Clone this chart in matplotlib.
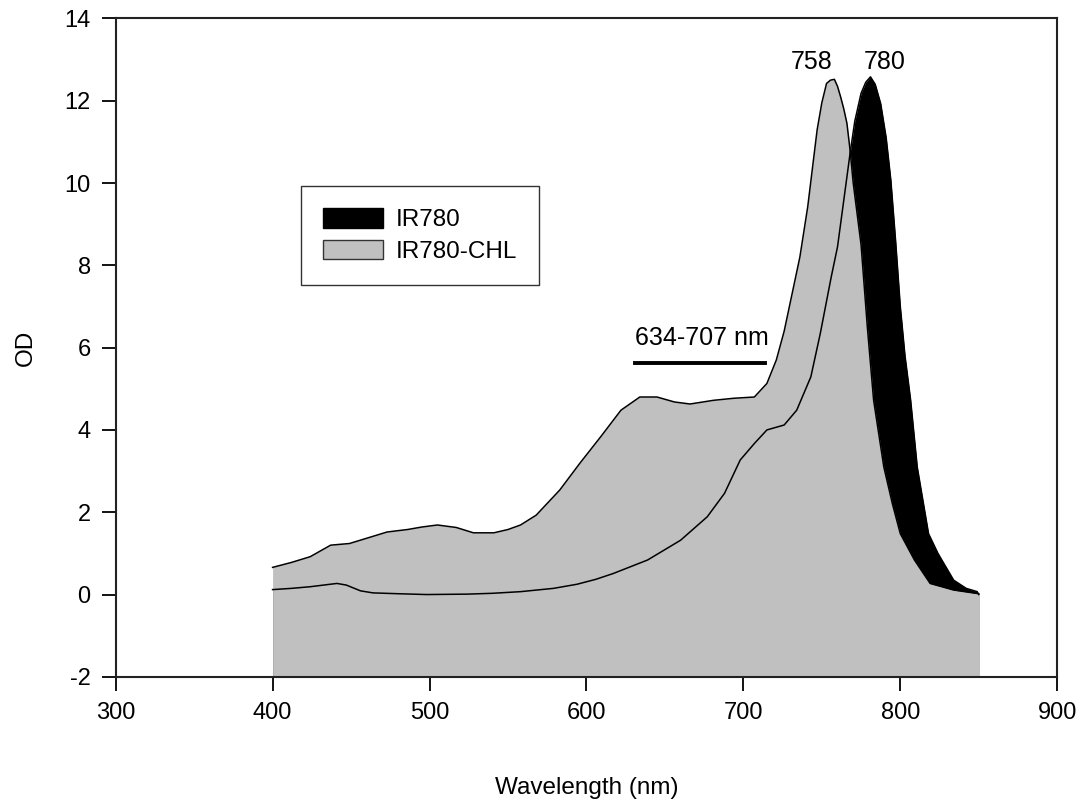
# absorption spectra IR780 vs IR780-CHL

import matplotlib
matplotlib.use("Agg")
import matplotlib.pyplot as plt
from matplotlib.patches import Patch

plt.rcParams['font.family'] = ['Liberation Sans', 'DejaVu Sans']
plt.rcParams['axes.unicode_minus'] = False

# IR780-CHL spectrum (wavelength nm, OD)
chl_x = [400, 412, 424, 437, 449, 461, 473, 486, 495, 505, 517, 528, 541, 550,
         558, 568, 583, 596, 609, 622, 634, 645, 656, 666, 681, 694, 707, 715,
         721, 726, 731, 736, 741, 747, 750, 753, 755.5, 758, 760, 762, 764, 766,
         768, 770, 775, 779, 783, 789.5, 795, 800, 809, 819, 834, 850]
chl_y = [0.66, 0.78, 0.92, 1.20, 1.24, 1.38, 1.52, 1.58, 1.64, 1.69, 1.63, 1.50,
         1.50, 1.58, 1.69, 1.93, 2.54, 3.20, 3.83, 4.48, 4.80, 4.80, 4.68, 4.63,
         4.72, 4.77, 4.80, 5.13, 5.70, 6.40, 7.30, 8.20, 9.42, 11.29, 11.95,
         12.42, 12.50, 12.52, 12.35, 12.09, 11.80, 11.45, 10.80, 10.0, 8.5, 6.5,
         4.72, 3.10, 2.2, 1.48, 0.84, 0.27, 0.11, 0.02]

# IR780 spectrum
ir_x = [400, 412, 424, 441, 447, 456, 464, 480, 498, 524, 540, 558, 579, 594,
        606, 617, 639, 660, 677, 688, 698, 707, 715, 726, 734, 743, 749, 756,
        760, 768, 771, 775, 778, 781, 784, 787.5, 791, 794, 797, 800, 803,
        806.6, 810.8, 818, 824, 834, 842, 849, 850]
ir_y = [0.12, 0.15, 0.19, 0.27, 0.23, 0.09, 0.04, 0.02, 0.00, 0.01, 0.03, 0.07,
        0.15, 0.25, 0.37, 0.51, 0.84, 1.32, 1.89, 2.46, 3.27, 3.67, 4.00, 4.12,
        4.48, 5.29, 6.34, 7.72, 8.45, 10.72, 11.50, 12.18, 12.45, 12.58, 12.40,
        11.93, 11.10, 10.06, 8.60, 7.0, 5.80, 4.72, 3.10, 1.48, 1.0, 0.35, 0.15,
        0.07, 0.0]

series_names = ['IR780', 'IR780-CHL']
peak_labels = ['758', '780']
band_label = '634-707 nm'
band_range = [631, 713.5]

gray = '#c0c0c0'

fig = plt.figure(figsize=(10.81, 8.01), dpi=100)
ax = fig.add_axes([0.107, 0.155, 0.871, 0.822])

# black fill first, gray over it, then outlines
ax.fill_between(ir_x, ir_y, -2, color='black', lw=0)
ax.fill_between(chl_x, chl_y, -2, color=gray, lw=0)
ax.plot(chl_x, chl_y, color='black', lw=1.1)
ax.plot(ir_x, ir_y, color='black', lw=1.1)

ax.set_xlim(300, 900)
ax.set_ylim(-2, 14)
ax.set_xticks(range(300, 901, 100))
ax.set_yticks(range(-2, 15, 2))
ax.tick_params(axis='x', direction='out', length=10, width=1.3, labelsize=17, pad=8)
ax.tick_params(axis='y', direction='out', length=10, width=1.3, labelsize=17, pad=8)
for s in ax.spines.values():
    s.set_linewidth(1.5)
    s.set_color('#222222')

ax.set_xlabel('Wavelength (nm)', fontsize=17.5)
ax.xaxis.set_label_coords(0.5, -0.152)
ax.set_ylabel('OD', fontsize=17.5)
ax.yaxis.set_label_coords(-0.084, 0.5)

# peak labels
ax.text(743.5, 12.95, peak_labels[0], fontsize=18, ha='center', va='center')
ax.text(790.3, 12.95, peak_labels[1], fontsize=18, ha='center', va='center')

# band marker
ax.text(673.7, 6.24, band_label, fontsize=18, ha='center', va='center')
ax.plot(band_range, [5.62, 5.62], color='black', lw=2.8)

handles = [Patch(facecolor='black', edgecolor='black'),
           Patch(facecolor=gray, edgecolor='#333333')]
leg = ax.legend(handles, series_names, loc='upper left',
                bbox_to_anchor=(0.1966, 0.745), fontsize=17.5,
                frameon=True, fancybox=False, borderpad=0.9,
                handlelength=2.5, handleheight=0.85, handletextpad=0.5,
                labelspacing=0.35, borderaxespad=0)
leg.get_frame().set_edgecolor('black')
leg.get_frame().set_linewidth(1.0)

fig.savefig('out.png', dpi=100)
